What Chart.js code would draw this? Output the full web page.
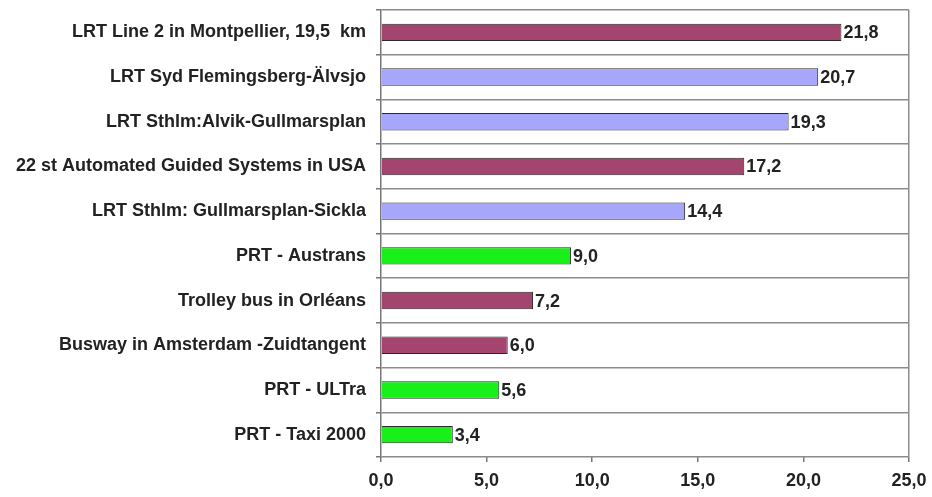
<!DOCTYPE html>
<html>
<head>
<meta charset="utf-8">
<script src="https://cdn.jsdelivr.net/npm/chart.js@4"></script>
<style>
  html, body { margin: 0; padding: 0; background: #fff; }
  #wrap { position: relative; width: 932px; height: 497px; }
</style>
</head>
<body>
<div id="wrap"><canvas id="chart"></canvas></div>
<script>
const categories = [
  'LRT Line 2 in Montpellier, 19,5  km',
  'LRT Syd Flemingsberg-Älvsjo',
  'LRT Sthlm:Alvik-Gullmarsplan',
  '22 st Automated Guided Systems in USA',
  'LRT Sthlm: Gullmarsplan-Sickla',
  'PRT - Austrans',
  'Trolley bus in Orléans',
  'Busway in Amsterdam -Zuidtangent',
  'PRT - ULTra',
  'PRT - Taxi 2000',
];
const values = [21.8, 20.7, 19.3, 17.2, 14.4, 9.0, 7.2, 6.0, 5.6, 3.4];
// colour group per row
const kinds = ['m', 'b', 'b', 'm', 'b', 'g', 'm', 'm', 'g', 'g'];
const xTicks = [0, 5, 10, 15, 20, 25];

const KIND_COLORS = { m: '#a3456f', b: '#a6a6fb', g: '#19f019' };
const FONT = '"Liberation Sans", Arial, sans-serif';
const fmt = v => v.toFixed(1).replace('.', ',');

// value text just right of each bar
const valueLabels = {
  id: 'valueLabels',
  afterDatasetsDraw(chart) {
    const { ctx } = chart;
    const meta = chart.getDatasetMeta(0);
    ctx.save();
    ctx.font = 'bold 18px ' + FONT;
    ctx.fillStyle = '#222';
    ctx.textBaseline = 'middle';
    meta.data.forEach((bar, i) => {
      ctx.fillText(fmt(values[i]), bar.x + 2, bar.y + 1);
    });
    ctx.restore();
  },
};

new Chart(document.getElementById('chart'), {
  type: 'bar',
  data: {
    labels: categories,
    datasets: [{
      data: values,
      backgroundColor: kinds.map(k => KIND_COLORS[k]),
      borderColor: '#2a2a2a',
      borderWidth: 1,
      borderSkipped: 'left',
      categoryPercentage: 0.39,
      barPercentage: 1,
    }],
  },
  options: {
    indexAxis: 'y',
    responsive: true, maintainAspectRatio: false,
    animation: false,
    layout: { padding: { top: 10, right: 23, left: 0, bottom: 0 } },
    plugins: { legend: { display: false }, tooltip: { enabled: false } },
    scales: {
      x: {
        min: 0, max: 25,
        afterBuildTicks: s => { s.ticks = xTicks.map(v => ({ value: v })); },
        afterFit: s => { s.height = 40; s.paddingLeft = 0; s.paddingRight = 0; },
        grid: {
          color: c => (c.tick && c.tick.value === 25 ? '#8c8c8c' : 'rgba(0,0,0,0)'),
          lineWidth: 1.5,
          tickColor: '#777',
          tickLength: 5,
        },
        border: { display: false },
        ticks: {
          color: '#222',
          font: { family: FONT, size: 18, weight: 'bold' },
          padding: 8,
          maxRotation: 0,
          callback: v => fmt(v),
        },
      },
      y: {
        afterFit: s => { s.width = 381; s.paddingTop = 0; s.paddingBottom = 0; },
        grid: {
          offset: true,
          color: '#8c8c8c',
          lineWidth: 1.5,
          tickColor: '#777',
          tickLength: 5,
        },
        border: { display: true, color: '#777', width: 1.5 },
        ticks: {
          color: '#222',
          font: { family: FONT, size: 18, weight: 'bold' },
          padding: 10,
        },
      },
    },
  },
  plugins: [valueLabels],
});
</script>
</body>
</html>
